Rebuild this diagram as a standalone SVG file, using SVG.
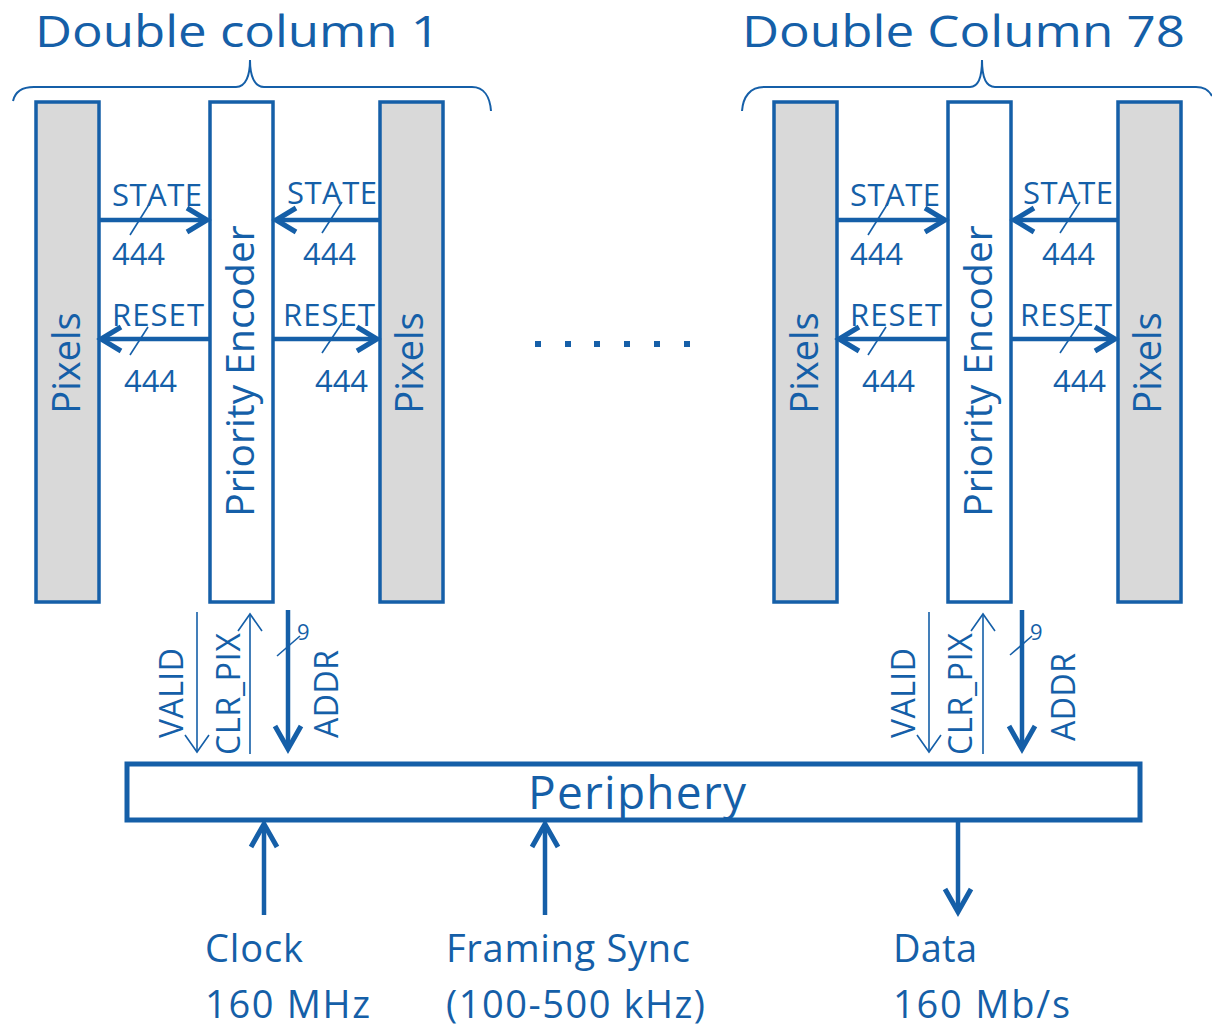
<svg xmlns="http://www.w3.org/2000/svg" width="1212" height="1027" viewBox="0 0 1212 1027">
<style>
  text { font-family: "Open Sans", "Liberation Sans", sans-serif; fill: #155fa8; }
  .title { font-size: 44px; }
  .lbl { font-size: 31px; }
  .big { font-size: 38px; }
  .pe-t { font-size: 39px; }
  .vlbl { font-size: 32px; }
  .pix { fill: #d9d9d9; stroke: #155fa8; stroke-width: 3.5; }
  .pe { fill: #ffffff; stroke: #155fa8; stroke-width: 3.5; }
  .per { fill: #ffffff; stroke: #155fa8; stroke-width: 5; }
  .brace { fill: none; stroke: #155fa8; stroke-width: 2; }
  .thick { fill: none; stroke: #155fa8; stroke-width: 4.5; }
  .thin { fill: none; stroke: #155fa8; stroke-width: 1.6; }
  .slash { fill: none; stroke: #155fa8; stroke-width: 1.6; }
  .dot { fill: #155fa8; }
</style>
<defs>
  <marker id="ah" markerUnits="userSpaceOnUse" markerWidth="40" markerHeight="40" refX="24" refY="15" orient="auto" overflow="visible">
    <path d="M4,3 L24,15 L4,27" fill="none" stroke="#155fa8" stroke-width="5" stroke-linejoin="miter"/>
  </marker>
  <marker id="ahL" markerUnits="userSpaceOnUse" markerWidth="40" markerHeight="40" refX="24" refY="15" orient="auto" overflow="visible">
    <path d="M1,2 L24,15 L1,28" fill="none" stroke="#155fa8" stroke-width="5" stroke-linejoin="miter"/>
  </marker>
  <marker id="at" markerUnits="userSpaceOnUse" markerWidth="30" markerHeight="30" refX="18" refY="13" orient="auto" overflow="visible">
    <path d="M1,1 L18,13 L1,25" fill="none" stroke="#155fa8" stroke-width="1.6"/>
  </marker>
</defs>

<!-- Titles and braces -->
<g id="title1">
  <text class="title" x="35" y="47" textLength="405" lengthAdjust="spacingAndGlyphs">Double column 1</text>
  <path class="brace" d="M13,101 C15,92 22,87 34,87 L236,87 C246,87 250,75 250,60 C250,75 254,87 264,87 L472,87 C484,87 490,97 491,111"/>
</g>
<g id="title78">
  <text class="title" x="742" y="47" textLength="443" lengthAdjust="spacingAndGlyphs">Double Column 78</text>
  <path class="brace" d="M742,111 C743,97 750,87 764,87 L970,87 C979,87 982,75 982,60 C982,75 985,87 995,87 L1196,87 C1205,87 1210,92 1212,96"/>
</g>

<!-- Double column 1 -->
<g id="dc1-pixels-left">
  <rect class="pix" x="36" y="102" width="63" height="500"/>
  <text class="big" transform="translate(80,363) rotate(-90)" text-anchor="middle">Pixels</text>
</g>
<g id="dc1-priority-encoder">
  <rect class="pe" x="210" y="102" width="63" height="500"/>
  <text class="pe-t" transform="translate(254,371) rotate(-90)" text-anchor="middle">Priority Encoder</text>
</g>
<g id="dc1-pixels-right">
  <rect class="pix" x="380" y="102" width="63" height="500"/>
  <text class="big" transform="translate(423,363) rotate(-90)" text-anchor="middle">Pixels</text>
</g>

<!-- Double column 78 -->
<g id="dc78-pixels-left">
  <rect class="pix" x="774" y="102" width="63" height="500"/>
  <text class="big" transform="translate(818,363) rotate(-90)" text-anchor="middle">Pixels</text>
</g>
<g id="dc78-priority-encoder">
  <rect class="pe" x="948" y="102" width="63" height="500"/>
  <text class="pe-t" transform="translate(992,371) rotate(-90)" text-anchor="middle">Priority Encoder</text>
</g>
<g id="dc78-pixels-right">
  <rect class="pix" x="1118" y="102" width="63" height="500"/>
  <text class="big" transform="translate(1161,363) rotate(-90)" text-anchor="middle">Pixels</text>
</g>

<!-- Ellipsis -->
<g id="ellipsis">
  <rect class="dot" x="535" y="341" width="6" height="6"/>
  <rect class="dot" x="565" y="341" width="6" height="6"/>
  <rect class="dot" x="594" y="341" width="6" height="6"/>
  <rect class="dot" x="624" y="341" width="6" height="6"/>
  <rect class="dot" x="654" y="341" width="6" height="6"/>
  <rect class="dot" x="684" y="341" width="6" height="6"/>
</g>

<!-- Periphery -->
<g id="periphery">
  <rect class="per" x="127" y="764" width="1013" height="56"/>
  <text x="637" y="809" font-size="46" text-anchor="middle" textLength="218">Periphery</text>
</g>

<!-- Connectors -->
<g id="connectors">
  <g id="dc1-links">
    <line class="thick" x1="99" y1="220" x2="207" y2="220" marker-end="url(#ah)"/>
    <line class="slash" x1="130" y1="235" x2="150" y2="203"/>
    <text class="lbl" x="112" y="206" textLength="90">STATE</text>
    <text class="lbl" x="112" y="265" textLength="53">444</text>

    <line class="thick" x1="380" y1="220" x2="276" y2="220" marker-end="url(#ah)"/>
    <line class="slash" x1="322" y1="233" x2="342" y2="202"/>
    <text class="lbl" x="287" y="204" textLength="90">STATE</text>
    <text class="lbl" x="303" y="265" textLength="53">444</text>

    <line class="thick" x1="210" y1="339" x2="101" y2="339" marker-end="url(#ah)"/>
    <line class="slash" x1="130" y1="355" x2="148" y2="327"/>
    <text class="lbl" x="112" y="326" textLength="92">RESET</text>
    <text class="lbl" x="124" y="392" textLength="53">444</text>

    <line class="thick" x1="273" y1="339" x2="377" y2="339" marker-end="url(#ah)"/>
    <line class="slash" x1="322" y1="353" x2="342" y2="323"/>
    <text class="lbl" x="283" y="326" textLength="92">RESET</text>
    <text class="lbl" x="315" y="392" textLength="53">444</text>
  </g>
  <g id="dc78-links" transform="translate(738,0)">
    <line class="thick" x1="99" y1="220" x2="207" y2="220" marker-end="url(#ah)"/>
    <line class="slash" x1="130" y1="235" x2="150" y2="203"/>
    <text class="lbl" x="112" y="206" textLength="90">STATE</text>
    <text class="lbl" x="112" y="265" textLength="53">444</text>

    <line class="thick" x1="380" y1="220" x2="276" y2="220" marker-end="url(#ah)"/>
    <line class="slash" x1="322" y1="233" x2="342" y2="202"/>
    <text class="lbl" x="285" y="204" textLength="90">STATE</text>
    <text class="lbl" x="304" y="265" textLength="53">444</text>

    <line class="thick" x1="210" y1="339" x2="101" y2="339" marker-end="url(#ah)"/>
    <line class="slash" x1="130" y1="355" x2="148" y2="327"/>
    <text class="lbl" x="112" y="326" textLength="92">RESET</text>
    <text class="lbl" x="124" y="392" textLength="53">444</text>

    <line class="thick" x1="273" y1="339" x2="377" y2="339" marker-end="url(#ah)"/>
    <line class="slash" x1="322" y1="353" x2="342" y2="323"/>
    <text class="lbl" x="282" y="326" textLength="92">RESET</text>
    <text class="lbl" x="315" y="392" textLength="53">444</text>
  </g>

  <!-- DC1 to periphery -->
  <g id="dc1-bus">
    <line class="thin" x1="197" y1="612" x2="197" y2="752" marker-end="url(#at)"/>
    <text class="vlbl" transform="translate(183,693) rotate(-90)" text-anchor="middle" textLength="90">VALID</text>
    <line class="thin" x1="250" y1="754" x2="250" y2="614" marker-end="url(#at)"/>
    <text class="vlbl" transform="translate(240,694) rotate(-90)" text-anchor="middle" textLength="122">CLR_PIX</text>
    <line class="thick" x1="288" y1="610" x2="288" y2="749" stroke-width="5" marker-end="url(#ahL)"/>
    <line class="slash" x1="277" y1="656" x2="300" y2="636"/>
    <text x="297" y="640" font-size="22">9</text>
    <text class="vlbl" transform="translate(338,694) rotate(-90)" text-anchor="middle" textLength="88">ADDR</text>
  </g>
  <g id="dc78-bus">
    <line class="thin" x1="929" y1="612" x2="929" y2="752" marker-end="url(#at)"/>
    <text class="vlbl" transform="translate(915,693) rotate(-90)" text-anchor="middle" textLength="90">VALID</text>
    <line class="thin" x1="983" y1="754" x2="983" y2="614" marker-end="url(#at)"/>
    <text class="vlbl" transform="translate(972,694) rotate(-90)" text-anchor="middle" textLength="122">CLR_PIX</text>
    <line class="thick" x1="1022" y1="610" x2="1022" y2="749" stroke-width="5" marker-end="url(#ahL)"/>
    <line class="slash" x1="1010" y1="655" x2="1032" y2="636"/>
    <text x="1030" y="640" font-size="22">9</text>
    <text class="vlbl" transform="translate(1075,697) rotate(-90)" text-anchor="middle" textLength="88">ADDR</text>
  </g>

  <!-- Periphery I/O -->
  <g id="io">
    <line class="thick" x1="264" y1="915" x2="264" y2="824" stroke-width="5" marker-end="url(#ahL)"/>
    <line class="thick" x1="545" y1="915" x2="545" y2="824" stroke-width="5" marker-end="url(#ahL)"/>
    <line class="thick" x1="958" y1="822" x2="958" y2="912" stroke-width="5" marker-end="url(#ahL)"/>
  </g>
</g>

<!-- IO labels -->
<g id="label-clock">
  <text class="big" x="205" y="962" textLength="98">Clock</text>
  <text class="big" x="205" y="1018" textLength="165">160 MHz</text>
</g>
<g id="label-sync">
  <text class="big" x="446" y="962" textLength="244">Framing Sync</text>
  <text class="big" x="446" y="1018" textLength="259">(100-500 kHz)</text>
</g>
<g id="label-data">
  <text class="big" x="893" y="962" textLength="84">Data</text>
  <text class="big" x="893" y="1018" textLength="177">160 Mb/s</text>
</g>
</svg>
